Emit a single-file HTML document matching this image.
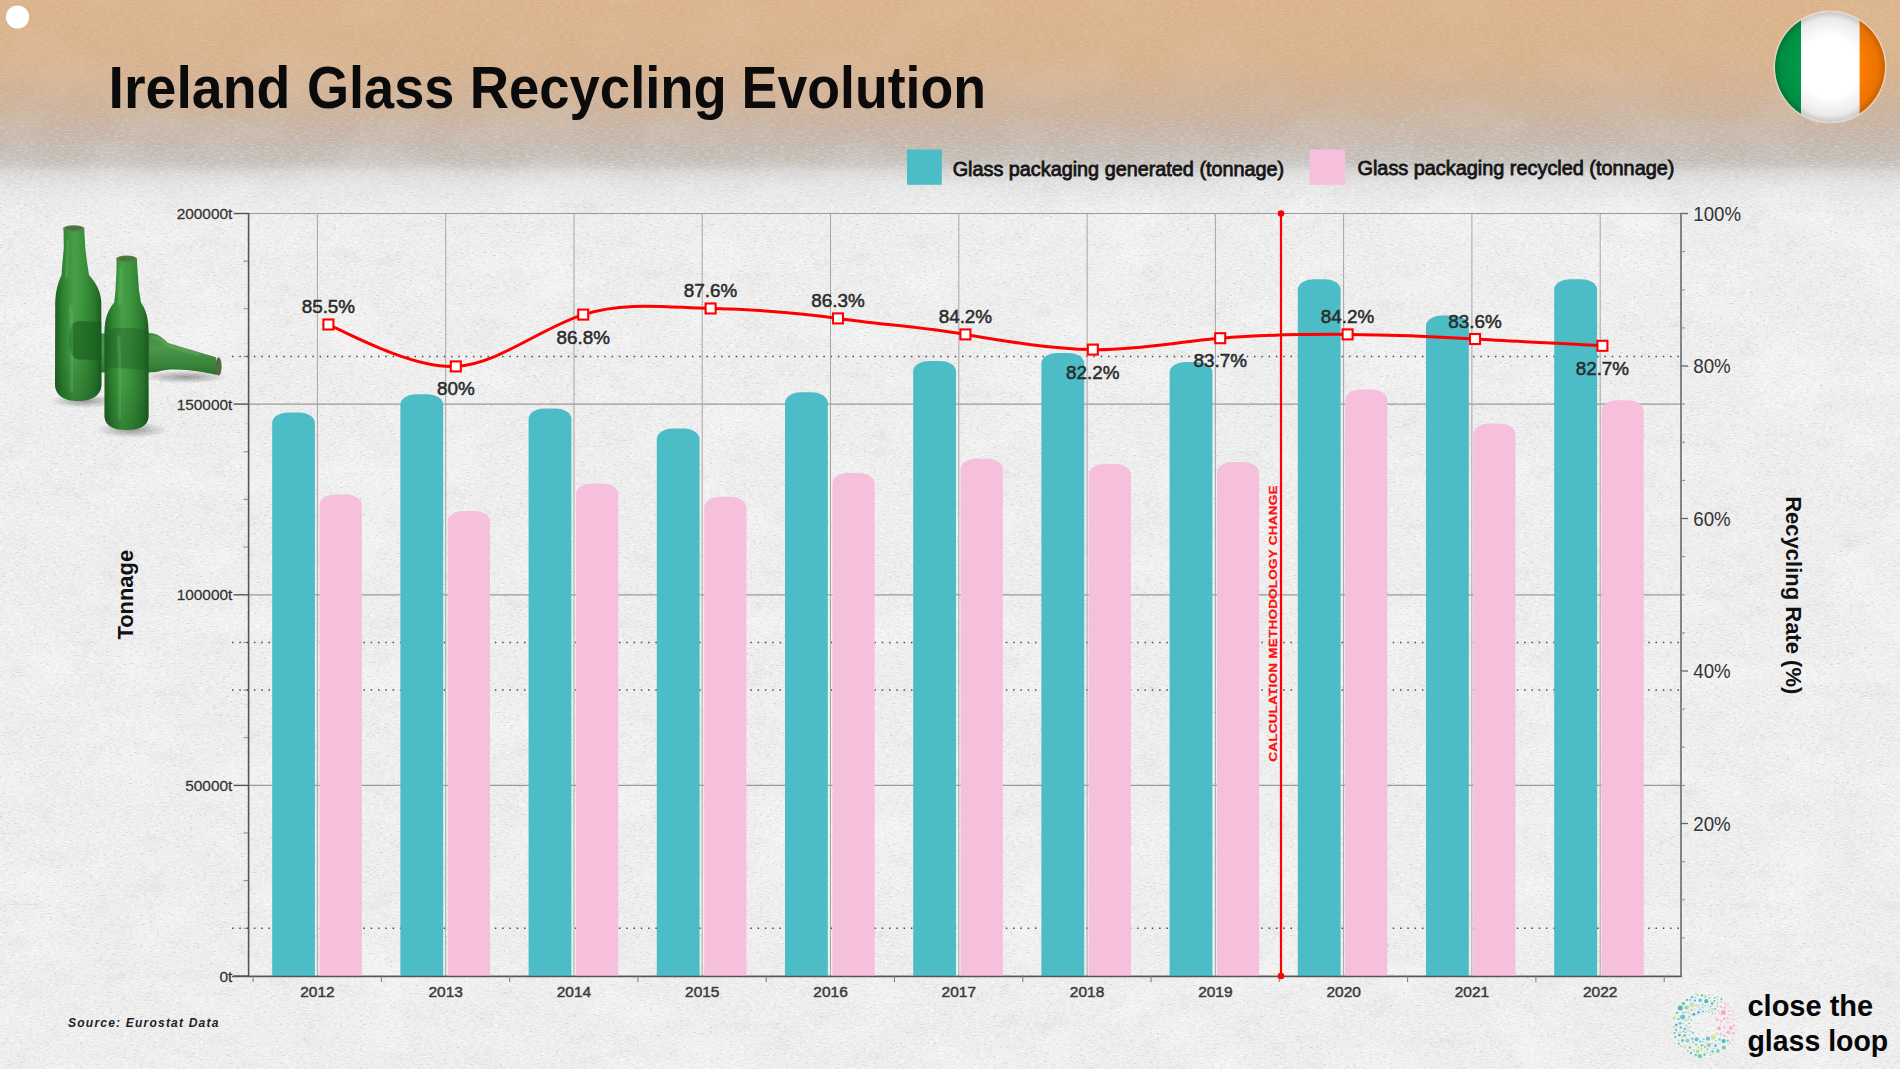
<!DOCTYPE html>
<html><head><meta charset="utf-8"><title>Ireland Glass Recycling Evolution</title>
<style>
html,body{margin:0;padding:0;}
body{width:1900px;height:1069px;overflow:hidden;position:relative;background:#eeeeee;font-family:"Liberation Sans",Arial,sans-serif;}
svg{position:absolute;left:0;top:0;}
</style></head>
<body>
<svg width="1900" height="1069" viewBox="0 0 1900 1069">
<defs>
<linearGradient id="peach" x1="0" y1="0" x2="0" y2="260" gradientUnits="userSpaceOnUse">
<stop offset="0.0000" stop-color="#dbb38a"/>
<stop offset="0.2308" stop-color="#d8b28c"/>
<stop offset="0.3154" stop-color="#d4b192"/>
<stop offset="0.3846" stop-color="#cfb298"/>
<stop offset="0.4615" stop-color="#c9b3a0"/>
<stop offset="0.5192" stop-color="#c5b5a8"/>
<stop offset="0.5769" stop-color="#c3b9b0"/>
<stop offset="0.6154" stop-color="#c4bdb7"/>
<stop offset="0.6385" stop-color="#c9c5c1"/>
<stop offset="0.6615" stop-color="#d6d5d4"/>
<stop offset="0.7115" stop-color="#e2e2e2"/>
<stop offset="0.7692" stop-color="#e8e8e8"/>
<stop offset="0.8269" stop-color="#ececec"/>
<stop offset="1.0000" stop-color="#ececec"/>
</linearGradient>
<filter id="f1" x="0" y="0" width="100%" height="100%">
<feTurbulence type="fractalNoise" baseFrequency="0.012 0.02" numOctaves="4" seed="3"/>
<feColorMatrix type="matrix" values="0 0 0 0 1  0 0 0 0 1  0 0 0 0 1  3 0 0 0 -1.35"/>
</filter>
<filter id="f2" x="0" y="0" width="100%" height="100%">
<feTurbulence type="fractalNoise" baseFrequency="0.03 0.06" numOctaves="3" seed="8"/>
<feColorMatrix type="matrix" values="0 0 0 0 0.45  0 0 0 0 0.45  0 0 0 0 0.45  -3 0 0 0 1.25"/>
</filter>
<filter id="f3" x="0" y="0" width="100%" height="100%">
<feTurbulence type="fractalNoise" baseFrequency="0.2 0.75" numOctaves="2" seed="5"/>
<feColorMatrix type="matrix" values="0 0 0 0 1  0 0 0 0 1  0 0 0 0 1  2.2 0 0 0 -0.95"/>
</filter>
<filter id="f4" x="0" y="0" width="100%" height="100%">
<feTurbulence type="fractalNoise" baseFrequency="0.3 0.9" numOctaves="2" seed="9"/>
<feColorMatrix type="matrix" values="0 0 0 0 0.35  0 0 0 0 0.35  0 0 0 0 0.35  -2.4 0 0 0 0.95"/>
</filter>
<radialGradient id="flagshade" cx="0.5" cy="0.5" r="0.5">
<stop offset="0.55" stop-color="#000" stop-opacity="0"/>
<stop offset="0.88" stop-color="#000" stop-opacity="0.08"/>
<stop offset="1" stop-color="#000" stop-opacity="0.22"/>
</radialGradient>
<linearGradient id="texgrad" x1="0" y1="0" x2="0" y2="1069" gradientUnits="userSpaceOnUse">
<stop offset="0" stop-color="#fff" stop-opacity="0.22"/>
<stop offset="0.1" stop-color="#fff" stop-opacity="0.25"/>
<stop offset="0.16" stop-color="#fff" stop-opacity="0.55"/>
<stop offset="0.2" stop-color="#fff" stop-opacity="1"/>
<stop offset="1" stop-color="#fff" stop-opacity="1"/>
</linearGradient>
<mask id="texmask" maskUnits="userSpaceOnUse" x="0" y="0" width="1900" height="1069"><rect x="0" y="0" width="1900" height="1069" fill="url(#texgrad)"/></mask>
<clipPath id="flagclip"><circle cx="1830" cy="67" r="55"/></clipPath>
</defs>
<rect x="0" y="0" width="1900" height="1069" fill="#ececec"/>
<rect x="0" y="0" width="1900" height="260" fill="url(#peach)"/>
<g mask="url(#texmask)">
<rect x="0" y="0" width="1900" height="1069" fill="#fff" filter="url(#f1)" opacity="0.28"/>
<rect x="0" y="0" width="1900" height="1069" fill="#fff" filter="url(#f2)" opacity="0.13"/>
<rect x="0" y="0" width="1900" height="1069" fill="#fff" filter="url(#f3)" opacity="0.7"/>
<rect x="0" y="0" width="1900" height="1069" fill="#fff" filter="url(#f4)" opacity="0.55"/>
</g>
<circle cx="17.5" cy="17" r="11.6" fill="#fff"/>
<circle cx="1830" cy="67" r="56.5" fill="#f3e6d8" opacity="0.6"/>
<g clip-path="url(#flagclip)">
<rect x="1770" y="10" width="31" height="115" fill="#009a49"/>
<rect x="1801" y="10" width="58.7" height="115" fill="#ffffff"/>
<rect x="1859.7" y="10" width="30" height="115" fill="#ff7d00"/>
<circle cx="1830" cy="67" r="55" fill="url(#flagshade)"/>
</g>

<defs>
<linearGradient id="bgA" x1="0" y1="0" x2="1" y2="0">
<stop offset="0" stop-color="#1d5f22"/><stop offset="0.18" stop-color="#2f8433"/><stop offset="0.4" stop-color="#46a046"/><stop offset="0.62" stop-color="#3b923c"/><stop offset="0.85" stop-color="#2a7a2e"/><stop offset="1" stop-color="#1a5a1f"/>
</linearGradient>
<linearGradient id="bgN" x1="0" y1="0" x2="1" y2="0">
<stop offset="0" stop-color="#2a7a2e"/><stop offset="0.35" stop-color="#4aa64a"/><stop offset="0.7" stop-color="#3c963d"/><stop offset="1" stop-color="#256f29"/>
</linearGradient>
<linearGradient id="bgL" x1="0" y1="0" x2="0" y2="1">
<stop offset="0" stop-color="#3f8e3f"/><stop offset="0.35" stop-color="#4a964a"/><stop offset="0.75" stop-color="#3a843b"/><stop offset="1" stop-color="#2a6e2d"/>
</linearGradient>
<radialGradient id="shadow" cx="0.5" cy="0.5" r="0.5">
<stop offset="0" stop-color="#444" stop-opacity="0.5"/><stop offset="1" stop-color="#444" stop-opacity="0"/>
</radialGradient>
<filter id="blur2"><feGaussianBlur stdDeviation="1.2"/></filter>
<linearGradient id="bvert" x1="0" y1="0" x2="0" y2="1">
<stop offset="0" stop-color="#0c3a10" stop-opacity="0"/><stop offset="0.55" stop-color="#0c3a10" stop-opacity="0.05"/><stop offset="1" stop-color="#0c3a10" stop-opacity="0.3"/>
</linearGradient>
</defs>
<ellipse cx="84" cy="401" rx="34" ry="7" fill="url(#shadow)"/>
<ellipse cx="132" cy="430" rx="36" ry="8" fill="url(#shadow)"/>
<ellipse cx="186" cy="377" rx="42" ry="6.5" fill="url(#shadow)"/>
<path d="M60,334 L149,333 C157,333 162,337 168,343 L216,357.3 L217.5,375 L205,372.5 C190,370 176,369 166,370 C160,371 155,372.5 149,372.5 L60,372.5 Z" fill="url(#bgL)"/>
<path d="M152,337 C158,337 162,340 167,345 L200,355" stroke="#8cc888" stroke-width="3" fill="none" opacity="0.3" filter="url(#blur2)"/>
<ellipse cx="218.6" cy="366.4" rx="3" ry="9.2" fill="#5d6448"/>
<ellipse cx="219.2" cy="366.4" rx="1.6" ry="7.2" fill="#3d7a39"/>
<path d="M63.5,228 L63.8,248 L62.5,262 L61.5,275 C58,283 55.5,291 55.2,303 L55,385 C56,397 66,401 78,401 C90,401 100.5,397 101.5,385 L101.3,303 C101,291 96,283 89,275 L87,262 L85.3,248 L84.2,228 Z" fill="url(#bgA)"/>
<path d="M80,321 L101.3,322 L101.3,360 L80,359.5 C72,359.5 69.5,352 69.5,340 C69.5,328 72,321 80,321 Z" fill="#175c1a" opacity="0.6"/>
<path d="M55.1,300 L101.4,300 L101.5,385 C100.5,397 90,401 78,401 C66,401 56,397 55,385 Z" fill="url(#bvert)"/>
<ellipse cx="73.7" cy="228.5" rx="10.6" ry="3.2" fill="#667652"/>
<ellipse cx="73.7" cy="228.2" rx="8" ry="1.9" fill="#3b7c36"/>
<path d="M116.5,258.5 L116.5,270 L115.5,290 L114.2,302.5 C108,310 104.5,318 104.5,333 L104.5,417 C105.5,427 115,430 126.5,430 C138,430 147.6,427 148.6,417 L148.6,333 C148.6,318 146,310 141,302.5 L139,290 L137.5,270 L136.8,258.5 Z" fill="url(#bgA)"/>
<path d="M104.5,330 C118,327 136,327 148.6,331 L148.6,370 C135,369 120,368 104.5,367 Z" fill="#1f5a22" opacity="0.4"/>
<path d="M104.5,330 L148.6,330 L148.6,417 C147.6,427 138,430 126.5,430 C115,430 105.5,427 104.5,417 Z" fill="url(#bvert)"/>
<ellipse cx="126.6" cy="258.8" rx="10.3" ry="3.3" fill="#667652"/>
<ellipse cx="126.6" cy="258.5" rx="7.8" ry="2" fill="#3b7c36"/>
<path d="M70,305 C73,330 73,360 72,392" stroke="#8fd48a" stroke-width="3.5" fill="none" opacity="0.25" filter="url(#blur2)"/>
<path d="M118,336 C121,360 121,392 120,420" stroke="#8fd48a" stroke-width="3.5" fill="none" opacity="0.25" filter="url(#blur2)"/>
<path d="M68,240 C68,255 67,268 66,278" stroke="#8fd48a" stroke-width="2.5" fill="none" opacity="0.3" filter="url(#blur2)"/>
<path d="M121,268 C121,283 120,295 119,305" stroke="#8fd48a" stroke-width="2.5" fill="none" opacity="0.3" filter="url(#blur2)"/>

<g><text transform="translate(108.60,108.00) scale(0.9243,1)" text-anchor="start" font-family="'Liberation Sans', Arial, sans-serif" font-weight="700" font-size="60" fill="#0b0b0b">Ireland</text><text transform="translate(306.89,108.00) scale(0.9025,1)" text-anchor="start" font-family="'Liberation Sans', Arial, sans-serif" font-weight="700" font-size="60" fill="#0b0b0b">Glass</text><text transform="translate(469.77,108.00) scale(0.9073,1)" text-anchor="start" font-family="'Liberation Sans', Arial, sans-serif" font-weight="700" font-size="60" fill="#0b0b0b">Recycling</text><text transform="translate(741.62,108.00) scale(0.8947,1)" text-anchor="start" font-family="'Liberation Sans', Arial, sans-serif" font-weight="700" font-size="60" fill="#0b0b0b">Evolution</text></g>
<rect x="907" y="149.5" width="34.8" height="35.3" fill="#4cbcc6"/>
<text transform="translate(952.67,175.60) scale(1.0277,1)" text-anchor="start" font-family="'Liberation Sans', Arial, sans-serif" font-weight="400" font-size="19.3" fill="#161616" stroke="#161616" stroke-width="0.8" paint-order="stroke">Glass packaging generated (tonnage)</text>
<rect x="1309.5" y="149.5" width="35.8" height="35.3" fill="#f6bfdb"/>
<text transform="translate(1357.47,175.40) scale(1.0301,1)" text-anchor="start" font-family="'Liberation Sans', Arial, sans-serif" font-weight="400" font-size="19.3" fill="#161616" stroke="#161616" stroke-width="0.8" paint-order="stroke">Glass packaging recycled (tonnage)</text>
<line x1="248.6" y1="976.0" x2="1681.0" y2="976.0" stroke="#9a9a9a" stroke-width="1.2"/>
<line x1="233.5" y1="976.0" x2="248.6" y2="976.0" stroke="#555" stroke-width="1.4"/>
<line x1="248.6" y1="785.4" x2="1681.0" y2="785.4" stroke="#9a9a9a" stroke-width="1.2"/>
<line x1="233.5" y1="785.4" x2="248.6" y2="785.4" stroke="#555" stroke-width="1.4"/>
<line x1="248.6" y1="594.8" x2="1681.0" y2="594.8" stroke="#9a9a9a" stroke-width="1.2"/>
<line x1="233.5" y1="594.8" x2="248.6" y2="594.8" stroke="#555" stroke-width="1.4"/>
<line x1="248.6" y1="404.1" x2="1681.0" y2="404.1" stroke="#9a9a9a" stroke-width="1.2"/>
<line x1="233.5" y1="404.1" x2="248.6" y2="404.1" stroke="#555" stroke-width="1.4"/>
<line x1="248.6" y1="213.5" x2="1681.0" y2="213.5" stroke="#9a9a9a" stroke-width="1.2"/>
<line x1="233.5" y1="213.5" x2="248.6" y2="213.5" stroke="#555" stroke-width="1.4"/>
<line x1="243.5" y1="928.3" x2="248.6" y2="928.3" stroke="#888" stroke-width="1"/>
<line x1="243.5" y1="880.7" x2="248.6" y2="880.7" stroke="#888" stroke-width="1"/>
<line x1="243.5" y1="833.0" x2="248.6" y2="833.0" stroke="#888" stroke-width="1"/>
<line x1="243.5" y1="737.7" x2="248.6" y2="737.7" stroke="#888" stroke-width="1"/>
<line x1="243.5" y1="690.1" x2="248.6" y2="690.1" stroke="#888" stroke-width="1"/>
<line x1="243.5" y1="642.4" x2="248.6" y2="642.4" stroke="#888" stroke-width="1"/>
<line x1="243.5" y1="547.1" x2="248.6" y2="547.1" stroke="#888" stroke-width="1"/>
<line x1="243.5" y1="499.4" x2="248.6" y2="499.4" stroke="#888" stroke-width="1"/>
<line x1="243.5" y1="451.8" x2="248.6" y2="451.8" stroke="#888" stroke-width="1"/>
<line x1="243.5" y1="356.5" x2="248.6" y2="356.5" stroke="#888" stroke-width="1"/>
<line x1="243.5" y1="308.8" x2="248.6" y2="308.8" stroke="#888" stroke-width="1"/>
<line x1="243.5" y1="261.2" x2="248.6" y2="261.2" stroke="#888" stroke-width="1"/>
<line x1="232" y1="356.5" x2="1681.0" y2="356.5" stroke="#4a4a4a" stroke-width="1.5" stroke-dasharray="1.5 5.8"/>
<line x1="232" y1="642.4" x2="1681.0" y2="642.4" stroke="#4a4a4a" stroke-width="1.5" stroke-dasharray="1.5 5.8"/>
<line x1="232" y1="690.1" x2="1681.0" y2="690.1" stroke="#4a4a4a" stroke-width="1.5" stroke-dasharray="1.5 5.8"/>
<line x1="232" y1="928.3" x2="1681.0" y2="928.3" stroke="#4a4a4a" stroke-width="1.5" stroke-dasharray="1.5 5.8"/>
<line x1="317.4" y1="213.5" x2="317.4" y2="976.0" stroke="#a5a5a5" stroke-width="1"/>
<line x1="445.7" y1="213.5" x2="445.7" y2="976.0" stroke="#a5a5a5" stroke-width="1"/>
<line x1="574.0" y1="213.5" x2="574.0" y2="976.0" stroke="#a5a5a5" stroke-width="1"/>
<line x1="702.2" y1="213.5" x2="702.2" y2="976.0" stroke="#a5a5a5" stroke-width="1"/>
<line x1="830.5" y1="213.5" x2="830.5" y2="976.0" stroke="#a5a5a5" stroke-width="1"/>
<line x1="958.8" y1="213.5" x2="958.8" y2="976.0" stroke="#a5a5a5" stroke-width="1"/>
<line x1="1087.1" y1="213.5" x2="1087.1" y2="976.0" stroke="#a5a5a5" stroke-width="1"/>
<line x1="1215.4" y1="213.5" x2="1215.4" y2="976.0" stroke="#a5a5a5" stroke-width="1"/>
<line x1="1343.6" y1="213.5" x2="1343.6" y2="976.0" stroke="#a5a5a5" stroke-width="1"/>
<line x1="1471.9" y1="213.5" x2="1471.9" y2="976.0" stroke="#a5a5a5" stroke-width="1"/>
<line x1="1600.2" y1="213.5" x2="1600.2" y2="976.0" stroke="#a5a5a5" stroke-width="1"/>
<path d="M272.2,976.0 L272.2,423.0 A16.0,10.5 0 0 1 288.2,412.5 L298.9,412.5 A16.0,10.5 0 0 1 314.9,423.0 L314.9,976.0 Z" fill="#4cbcc6"/>
<path d="M319.6,976.0 L319.6,504.9 A16.0,10.5 0 0 1 335.6,494.4 L345.9,494.4 A16.0,10.5 0 0 1 361.9,504.9 L361.9,976.0 Z" fill="#f6bfdb"/>
<path d="M400.4,976.0 L400.4,404.7 A16.0,10.5 0 0 1 416.4,394.2 L427.2,394.2 A16.0,10.5 0 0 1 443.2,404.7 L443.2,976.0 Z" fill="#4cbcc6"/>
<path d="M447.8,976.0 L447.8,521.5 A16.0,10.5 0 0 1 463.8,511.0 L474.0,511.0 A16.0,10.5 0 0 1 490.0,521.5 L490.0,976.0 Z" fill="#f6bfdb"/>
<path d="M528.6,976.0 L528.6,419.0 A16.0,10.5 0 0 1 544.6,408.5 L555.4,408.5 A16.0,10.5 0 0 1 571.4,419.0 L571.4,976.0 Z" fill="#4cbcc6"/>
<path d="M576.0,976.0 L576.0,493.9 A16.0,10.5 0 0 1 592.0,483.4 L602.2,483.4 A16.0,10.5 0 0 1 618.2,493.9 L618.2,976.0 Z" fill="#f6bfdb"/>
<path d="M656.8,976.0 L656.8,439.1 A16.0,10.5 0 0 1 672.8,428.6 L683.6,428.6 A16.0,10.5 0 0 1 699.6,439.1 L699.6,976.0 Z" fill="#4cbcc6"/>
<path d="M704.2,976.0 L704.2,507.3 A16.0,10.5 0 0 1 720.2,496.8 L730.4,496.8 A16.0,10.5 0 0 1 746.4,507.3 L746.4,976.0 Z" fill="#f6bfdb"/>
<path d="M785.0,976.0 L785.0,402.8 A16.0,10.5 0 0 1 801.0,392.3 L811.8,392.3 A16.0,10.5 0 0 1 827.8,402.8 L827.8,976.0 Z" fill="#4cbcc6"/>
<path d="M832.4,976.0 L832.4,483.4 A16.0,10.5 0 0 1 848.4,472.9 L858.6,472.9 A16.0,10.5 0 0 1 874.6,483.4 L874.6,976.0 Z" fill="#f6bfdb"/>
<path d="M913.2,976.0 L913.2,371.5 A16.0,10.5 0 0 1 929.2,361.0 L940.0,361.0 A16.0,10.5 0 0 1 956.0,371.5 L956.0,976.0 Z" fill="#4cbcc6"/>
<path d="M960.6,976.0 L960.6,469.2 A16.0,10.5 0 0 1 976.6,458.7 L986.8,458.7 A16.0,10.5 0 0 1 1002.8,469.2 L1002.8,976.0 Z" fill="#f6bfdb"/>
<path d="M1041.4,976.0 L1041.4,363.4 A16.0,10.5 0 0 1 1057.4,352.9 L1068.2,352.9 A16.0,10.5 0 0 1 1084.2,363.4 L1084.2,976.0 Z" fill="#4cbcc6"/>
<path d="M1088.7,976.0 L1088.7,474.5 A16.0,10.5 0 0 1 1104.7,464.0 L1114.9,464.0 A16.0,10.5 0 0 1 1130.9,474.5 L1130.9,976.0 Z" fill="#f6bfdb"/>
<path d="M1169.6,976.0 L1169.6,372.5 A16.0,10.5 0 0 1 1185.6,362.0 L1196.4,362.0 A16.0,10.5 0 0 1 1212.4,372.5 L1212.4,976.0 Z" fill="#4cbcc6"/>
<path d="M1216.9,976.0 L1216.9,472.4 A16.0,10.5 0 0 1 1232.9,461.9 L1243.1,461.9 A16.0,10.5 0 0 1 1259.1,472.4 L1259.1,976.0 Z" fill="#f6bfdb"/>
<path d="M1297.8,976.0 L1297.8,289.7 A16.0,10.5 0 0 1 1313.8,279.2 L1324.6,279.2 A16.0,10.5 0 0 1 1340.6,289.7 L1340.6,976.0 Z" fill="#4cbcc6"/>
<path d="M1345.1,976.0 L1345.1,400.0 A16.0,10.5 0 0 1 1361.1,389.5 L1371.3,389.5 A16.0,10.5 0 0 1 1387.3,400.0 L1387.3,976.0 Z" fill="#f6bfdb"/>
<path d="M1426.0,976.0 L1426.0,325.9 A16.0,10.5 0 0 1 1442.0,315.4 L1452.8,315.4 A16.0,10.5 0 0 1 1468.8,325.9 L1468.8,976.0 Z" fill="#4cbcc6"/>
<path d="M1473.3,976.0 L1473.3,434.1 A16.0,10.5 0 0 1 1489.3,423.6 L1499.5,423.6 A16.0,10.5 0 0 1 1515.5,434.1 L1515.5,976.0 Z" fill="#f6bfdb"/>
<path d="M1554.2,976.0 L1554.2,289.7 A16.0,10.5 0 0 1 1570.2,279.2 L1581.1,279.2 A16.0,10.5 0 0 1 1597.1,289.7 L1597.1,976.0 Z" fill="#4cbcc6"/>
<path d="M1601.5,976.0 L1601.5,410.8 A16.0,10.5 0 0 1 1617.5,400.3 L1627.7,400.3 A16.0,10.5 0 0 1 1643.7,410.8 L1643.7,976.0 Z" fill="#f6bfdb"/>
<line x1="248.6" y1="213.0" x2="248.6" y2="976.0" stroke="#555" stroke-width="1.6"/>
<line x1="1681.0" y1="213.0" x2="1681.0" y2="976.0" stroke="#6a6a6a" stroke-width="1.6"/>
<line x1="232" y1="976.4" x2="1681.8" y2="976.4" stroke="#555" stroke-width="1.5"/>
<line x1="253.1" y1="976.0" x2="253.1" y2="982.0" stroke="#777" stroke-width="1"/>
<line x1="381.4" y1="976.0" x2="381.4" y2="982.0" stroke="#777" stroke-width="1"/>
<line x1="509.7" y1="976.0" x2="509.7" y2="982.0" stroke="#777" stroke-width="1"/>
<line x1="637.9" y1="976.0" x2="637.9" y2="982.0" stroke="#777" stroke-width="1"/>
<line x1="766.2" y1="976.0" x2="766.2" y2="982.0" stroke="#777" stroke-width="1"/>
<line x1="894.5" y1="976.0" x2="894.5" y2="982.0" stroke="#777" stroke-width="1"/>
<line x1="1022.8" y1="976.0" x2="1022.8" y2="982.0" stroke="#777" stroke-width="1"/>
<line x1="1151.1" y1="976.0" x2="1151.1" y2="982.0" stroke="#777" stroke-width="1"/>
<line x1="1279.3" y1="976.0" x2="1279.3" y2="982.0" stroke="#777" stroke-width="1"/>
<line x1="1407.6" y1="976.0" x2="1407.6" y2="982.0" stroke="#777" stroke-width="1"/>
<line x1="1535.9" y1="976.0" x2="1535.9" y2="982.0" stroke="#777" stroke-width="1"/>
<line x1="1664.2" y1="976.0" x2="1664.2" y2="982.0" stroke="#777" stroke-width="1"/>
<line x1="1681.0" y1="823.5" x2="1688.0" y2="823.5" stroke="#666" stroke-width="1.3"/>
<line x1="1681.0" y1="671.0" x2="1688.0" y2="671.0" stroke="#666" stroke-width="1.3"/>
<line x1="1681.0" y1="518.5" x2="1688.0" y2="518.5" stroke="#666" stroke-width="1.3"/>
<line x1="1681.0" y1="366.0" x2="1688.0" y2="366.0" stroke="#666" stroke-width="1.3"/>
<line x1="1681.0" y1="213.5" x2="1688.0" y2="213.5" stroke="#666" stroke-width="1.3"/>
<line x1="1681.0" y1="937.9" x2="1685.0" y2="937.9" stroke="#8a8a8a" stroke-width="1"/>
<line x1="1681.0" y1="899.8" x2="1685.0" y2="899.8" stroke="#8a8a8a" stroke-width="1"/>
<line x1="1681.0" y1="861.6" x2="1685.0" y2="861.6" stroke="#8a8a8a" stroke-width="1"/>
<line x1="1681.0" y1="785.4" x2="1685.0" y2="785.4" stroke="#8a8a8a" stroke-width="1"/>
<line x1="1681.0" y1="747.2" x2="1685.0" y2="747.2" stroke="#8a8a8a" stroke-width="1"/>
<line x1="1681.0" y1="709.1" x2="1685.0" y2="709.1" stroke="#8a8a8a" stroke-width="1"/>
<line x1="1681.0" y1="632.9" x2="1685.0" y2="632.9" stroke="#8a8a8a" stroke-width="1"/>
<line x1="1681.0" y1="594.8" x2="1685.0" y2="594.8" stroke="#8a8a8a" stroke-width="1"/>
<line x1="1681.0" y1="556.6" x2="1685.0" y2="556.6" stroke="#8a8a8a" stroke-width="1"/>
<line x1="1681.0" y1="480.4" x2="1685.0" y2="480.4" stroke="#8a8a8a" stroke-width="1"/>
<line x1="1681.0" y1="442.2" x2="1685.0" y2="442.2" stroke="#8a8a8a" stroke-width="1"/>
<line x1="1681.0" y1="404.1" x2="1685.0" y2="404.1" stroke="#8a8a8a" stroke-width="1"/>
<line x1="1681.0" y1="327.9" x2="1685.0" y2="327.9" stroke="#8a8a8a" stroke-width="1"/>
<line x1="1681.0" y1="289.8" x2="1685.0" y2="289.8" stroke="#8a8a8a" stroke-width="1"/>
<line x1="1681.0" y1="251.6" x2="1685.0" y2="251.6" stroke="#8a8a8a" stroke-width="1"/>
<line x1="1281.0" y1="213.5" x2="1281.0" y2="976.0" stroke="#ff0000" stroke-width="2.2"/>
<circle cx="1281.0" cy="213.5" r="3.3" fill="#ff0000"/>
<circle cx="1281.0" cy="976.0" r="3.3" fill="#ff0000"/>
<text transform="translate(1277.40,761.80) rotate(-90) scale(1.1952,1)" text-anchor="start" font-family="'Liberation Sans', Arial, sans-serif" font-weight="700" letter-spacing="0.2" font-size="11.3" fill="#ff1010" stroke="#ff1010" stroke-width="0.25" paint-order="stroke">CALCULATION METHODOLOGY CHANGE</text>
<path d="M328.4,324.5 C349.6,334.3 413.3,368.7 455.8,366.4 C498.3,364.1 540.7,328.1 583.2,314.6 C625.7,301.1 668.1,307.6 710.6,308.5 C753.1,309.4 795.5,312.3 838.0,318.4 C880.5,324.4 922.9,327.1 965.4,334.4 C1007.9,341.7 1050.3,348.7 1092.8,349.6 C1135.3,350.5 1177.7,341.8 1220.2,338.2 C1262.7,334.7 1305.1,334.2 1347.6,334.4 C1390.1,334.6 1432.5,336.3 1475.0,339.0 C1517.5,341.6 1581.2,344.2 1602.4,345.8" fill="none" stroke="#ff0000" stroke-width="3"/>
<rect x="323.4" y="319.5" width="10" height="10" fill="#fff" stroke="#ff0000" stroke-width="2.1"/>
<rect x="450.8" y="361.4" width="10" height="10" fill="#fff" stroke="#ff0000" stroke-width="2.1"/>
<rect x="578.2" y="309.6" width="10" height="10" fill="#fff" stroke="#ff0000" stroke-width="2.1"/>
<rect x="705.6" y="303.5" width="10" height="10" fill="#fff" stroke="#ff0000" stroke-width="2.1"/>
<rect x="833.0" y="313.4" width="10" height="10" fill="#fff" stroke="#ff0000" stroke-width="2.1"/>
<rect x="960.4" y="329.4" width="10" height="10" fill="#fff" stroke="#ff0000" stroke-width="2.1"/>
<rect x="1087.8" y="344.6" width="10" height="10" fill="#fff" stroke="#ff0000" stroke-width="2.1"/>
<rect x="1215.2" y="333.2" width="10" height="10" fill="#fff" stroke="#ff0000" stroke-width="2.1"/>
<rect x="1342.6" y="329.4" width="10" height="10" fill="#fff" stroke="#ff0000" stroke-width="2.1"/>
<rect x="1470.0" y="334.0" width="10" height="10" fill="#fff" stroke="#ff0000" stroke-width="2.1"/>
<rect x="1597.4" y="340.8" width="10" height="10" fill="#fff" stroke="#ff0000" stroke-width="2.1"/>
<text transform="translate(328.40,313.49) scale(0.9981,1)" text-anchor="middle" font-family="'Liberation Sans', Arial, sans-serif" font-weight="400" font-size="18.9" fill="#2b2b2b" stroke="#2b2b2b" stroke-width="0.5" paint-order="stroke">85.5%</text>
<text transform="translate(455.80,395.40) scale(0.9981,1)" text-anchor="middle" font-family="'Liberation Sans', Arial, sans-serif" font-weight="400" font-size="18.9" fill="#2b2b2b" stroke="#2b2b2b" stroke-width="0.5" paint-order="stroke">80%</text>
<text transform="translate(583.20,343.58) scale(0.9981,1)" text-anchor="middle" font-family="'Liberation Sans', Arial, sans-serif" font-weight="400" font-size="18.9" fill="#2b2b2b" stroke="#2b2b2b" stroke-width="0.5" paint-order="stroke">86.8%</text>
<text transform="translate(710.60,297.49) scale(0.9981,1)" text-anchor="middle" font-family="'Liberation Sans', Arial, sans-serif" font-weight="400" font-size="18.9" fill="#2b2b2b" stroke="#2b2b2b" stroke-width="0.5" paint-order="stroke">87.6%</text>
<text transform="translate(838.00,307.39) scale(0.9981,1)" text-anchor="middle" font-family="'Liberation Sans', Arial, sans-serif" font-weight="400" font-size="18.9" fill="#2b2b2b" stroke="#2b2b2b" stroke-width="0.5" paint-order="stroke">86.3%</text>
<text transform="translate(965.40,323.40) scale(0.9981,1)" text-anchor="middle" font-family="'Liberation Sans', Arial, sans-serif" font-weight="400" font-size="18.9" fill="#2b2b2b" stroke="#2b2b2b" stroke-width="0.5" paint-order="stroke">84.2%</text>
<text transform="translate(1092.80,378.64) scale(0.9981,1)" text-anchor="middle" font-family="'Liberation Sans', Arial, sans-serif" font-weight="400" font-size="18.9" fill="#2b2b2b" stroke="#2b2b2b" stroke-width="0.5" paint-order="stroke">82.2%</text>
<text transform="translate(1220.20,367.21) scale(0.9981,1)" text-anchor="middle" font-family="'Liberation Sans', Arial, sans-serif" font-weight="400" font-size="18.9" fill="#2b2b2b" stroke="#2b2b2b" stroke-width="0.5" paint-order="stroke">83.7%</text>
<text transform="translate(1347.60,323.40) scale(0.9981,1)" text-anchor="middle" font-family="'Liberation Sans', Arial, sans-serif" font-weight="400" font-size="18.9" fill="#2b2b2b" stroke="#2b2b2b" stroke-width="0.5" paint-order="stroke">84.2%</text>
<text transform="translate(1475.00,327.97) scale(0.9981,1)" text-anchor="middle" font-family="'Liberation Sans', Arial, sans-serif" font-weight="400" font-size="18.9" fill="#2b2b2b" stroke="#2b2b2b" stroke-width="0.5" paint-order="stroke">83.6%</text>
<text transform="translate(1602.40,374.83) scale(0.9981,1)" text-anchor="middle" font-family="'Liberation Sans', Arial, sans-serif" font-weight="400" font-size="18.9" fill="#2b2b2b" stroke="#2b2b2b" stroke-width="0.5" paint-order="stroke">82.7%</text>
<text transform="translate(232.30,981.50) scale(0.9945,1)" text-anchor="end" font-family="'Liberation Sans', Arial, sans-serif" font-weight="400" font-size="15.5" fill="#333" stroke="#333" stroke-width="0.25" paint-order="stroke">0t</text>
<text transform="translate(232.30,790.88) scale(0.9945,1)" text-anchor="end" font-family="'Liberation Sans', Arial, sans-serif" font-weight="400" font-size="15.5" fill="#333" stroke="#333" stroke-width="0.25" paint-order="stroke">50000t</text>
<text transform="translate(232.30,600.25) scale(0.9945,1)" text-anchor="end" font-family="'Liberation Sans', Arial, sans-serif" font-weight="400" font-size="15.5" fill="#333" stroke="#333" stroke-width="0.25" paint-order="stroke">100000t</text>
<text transform="translate(232.30,409.62) scale(0.9945,1)" text-anchor="end" font-family="'Liberation Sans', Arial, sans-serif" font-weight="400" font-size="15.5" fill="#333" stroke="#333" stroke-width="0.25" paint-order="stroke">150000t</text>
<text transform="translate(232.30,219.00) scale(0.9945,1)" text-anchor="end" font-family="'Liberation Sans', Arial, sans-serif" font-weight="400" font-size="15.5" fill="#333" stroke="#333" stroke-width="0.25" paint-order="stroke">200000t</text>
<text transform="translate(1693.24,830.70) scale(0.9604,1)" text-anchor="start" font-family="'Liberation Sans', Arial, sans-serif" font-weight="400" font-size="19.5" fill="#333">20%</text>
<text transform="translate(1693.24,678.20) scale(0.9604,1)" text-anchor="start" font-family="'Liberation Sans', Arial, sans-serif" font-weight="400" font-size="19.5" fill="#333">40%</text>
<text transform="translate(1693.24,525.70) scale(0.9604,1)" text-anchor="start" font-family="'Liberation Sans', Arial, sans-serif" font-weight="400" font-size="19.5" fill="#333">60%</text>
<text transform="translate(1693.24,373.20) scale(0.9604,1)" text-anchor="start" font-family="'Liberation Sans', Arial, sans-serif" font-weight="400" font-size="19.5" fill="#333">80%</text>
<text transform="translate(1693.24,220.70) scale(0.9604,1)" text-anchor="start" font-family="'Liberation Sans', Arial, sans-serif" font-weight="400" font-size="19.5" fill="#333">100%</text>
<text transform="translate(317.40,997.40) scale(1.0613,1)" text-anchor="middle" font-family="'Liberation Sans', Arial, sans-serif" font-weight="400" font-size="14.6" fill="#3a3a3a" stroke="#3a3a3a" stroke-width="0.45" paint-order="stroke">2012</text>
<text transform="translate(445.68,997.40) scale(1.0613,1)" text-anchor="middle" font-family="'Liberation Sans', Arial, sans-serif" font-weight="400" font-size="14.6" fill="#3a3a3a" stroke="#3a3a3a" stroke-width="0.45" paint-order="stroke">2013</text>
<text transform="translate(573.96,997.40) scale(1.0613,1)" text-anchor="middle" font-family="'Liberation Sans', Arial, sans-serif" font-weight="400" font-size="14.6" fill="#3a3a3a" stroke="#3a3a3a" stroke-width="0.45" paint-order="stroke">2014</text>
<text transform="translate(702.24,997.40) scale(1.0613,1)" text-anchor="middle" font-family="'Liberation Sans', Arial, sans-serif" font-weight="400" font-size="14.6" fill="#3a3a3a" stroke="#3a3a3a" stroke-width="0.45" paint-order="stroke">2015</text>
<text transform="translate(830.52,997.40) scale(1.0613,1)" text-anchor="middle" font-family="'Liberation Sans', Arial, sans-serif" font-weight="400" font-size="14.6" fill="#3a3a3a" stroke="#3a3a3a" stroke-width="0.45" paint-order="stroke">2016</text>
<text transform="translate(958.80,997.40) scale(1.0613,1)" text-anchor="middle" font-family="'Liberation Sans', Arial, sans-serif" font-weight="400" font-size="14.6" fill="#3a3a3a" stroke="#3a3a3a" stroke-width="0.45" paint-order="stroke">2017</text>
<text transform="translate(1087.08,997.40) scale(1.0613,1)" text-anchor="middle" font-family="'Liberation Sans', Arial, sans-serif" font-weight="400" font-size="14.6" fill="#3a3a3a" stroke="#3a3a3a" stroke-width="0.45" paint-order="stroke">2018</text>
<text transform="translate(1215.36,997.40) scale(1.0613,1)" text-anchor="middle" font-family="'Liberation Sans', Arial, sans-serif" font-weight="400" font-size="14.6" fill="#3a3a3a" stroke="#3a3a3a" stroke-width="0.45" paint-order="stroke">2019</text>
<text transform="translate(1343.64,997.40) scale(1.0613,1)" text-anchor="middle" font-family="'Liberation Sans', Arial, sans-serif" font-weight="400" font-size="14.6" fill="#3a3a3a" stroke="#3a3a3a" stroke-width="0.45" paint-order="stroke">2020</text>
<text transform="translate(1471.92,997.40) scale(1.0613,1)" text-anchor="middle" font-family="'Liberation Sans', Arial, sans-serif" font-weight="400" font-size="14.6" fill="#3a3a3a" stroke="#3a3a3a" stroke-width="0.45" paint-order="stroke">2021</text>
<text transform="translate(1600.20,997.40) scale(1.0613,1)" text-anchor="middle" font-family="'Liberation Sans', Arial, sans-serif" font-weight="400" font-size="14.6" fill="#3a3a3a" stroke="#3a3a3a" stroke-width="0.45" paint-order="stroke">2022</text>
<text transform="translate(132.90,639.60) rotate(-90) scale(0.9707,1)" text-anchor="start" font-family="'Liberation Sans', Arial, sans-serif" font-weight="700" font-size="22.6" fill="#111">Tonnage</text>
<text transform="translate(1785.80,496.18) rotate(90) scale(1.0193,1)" text-anchor="start" font-family="'Liberation Sans', Arial, sans-serif" font-weight="700" font-size="21.6" fill="#111">Recycling Rate (%)</text>
<text transform="translate(68.05,1026.50) scale(0.9027,1)" text-anchor="start" font-family="'Liberation Sans', Arial, sans-serif" font-weight="700" font-style="italic" letter-spacing="1.3" font-size="13.4" fill="#1e1e1e">Source: Eurostat Data</text>
<circle cx="1682.7" cy="1016.9" r="2.5" fill="#6ac4d8"/><circle cx="1676.0" cy="1029.9" r="1.1" fill="#5cc5ea"/><circle cx="1719.2" cy="1043.6" r="0.7" fill="#8ed3c2"/><circle cx="1686.9" cy="999.9" r="1.1" fill="#3dbfc8"/><circle cx="1731.5" cy="1036.8" r="0.7" fill="#f9c3d9"/><circle cx="1680.3" cy="1008.0" r="2.5" fill="#4bb9a5"/><circle cx="1717.2" cy="1006.1" r="1.3" fill="#cde79e"/><circle cx="1691.8" cy="1004.8" r="2.5" fill="#cde79e"/><circle cx="1693.5" cy="1050.7" r="1.3" fill="#cde79e"/><circle cx="1691.3" cy="1019.9" r="0.9" fill="#8ed3c2"/><circle cx="1700.3" cy="1041.4" r="0.9" fill="#3dbfc8"/><circle cx="1734.0" cy="1025.6" r="1.3" fill="#f6b3cf"/><circle cx="1728.0" cy="1022.6" r="2.1" fill="#fbd3e3"/><circle cx="1693.8" cy="1014.2" r="1.5" fill="#4bb9a5"/><circle cx="1696.6" cy="1039.3" r="2.1" fill="#5cc5ea"/><circle cx="1699.9" cy="1009.1" r="0.7" fill="#3dbfc8"/><circle cx="1680.9" cy="1027.5" r="1.3" fill="#6ac4d8"/><circle cx="1687.5" cy="1040.7" r="2.1" fill="#8ed3c2"/><circle cx="1735.7" cy="1029.4" r="1.1" fill="#fbd3e3"/><circle cx="1713.4" cy="1037.2" r="2.5" fill="#cde79e"/><circle cx="1724.4" cy="1035.5" r="1.3" fill="#f7bcd5"/><circle cx="1730.8" cy="1028.1" r="1.8" fill="#f4a6c6"/><circle cx="1723.8" cy="1047.5" r="2.1" fill="#72cf9e"/><circle cx="1704.6" cy="1054.6" r="1.3" fill="#72cf9e"/><circle cx="1730.5" cy="1015.3" r="1.3" fill="#fbd3e3"/><circle cx="1723.4" cy="1012.6" r="2.5" fill="#f4a6c6"/><circle cx="1687.8" cy="1027.7" r="0.9" fill="#cde79e"/><circle cx="1720.7" cy="1015.9" r="0.7" fill="#f6b3cf"/><circle cx="1685.6" cy="1032.2" r="0.7" fill="#3dbfc8"/><circle cx="1692.3" cy="1038.7" r="1.1" fill="#5cc5ea"/><circle cx="1694.9" cy="1000.6" r="1.1" fill="#3dbfc8"/><circle cx="1731.1" cy="1019.2" r="0.7" fill="#f7bcd5"/><circle cx="1702.1" cy="995.4" r="1.1" fill="#4bb9a5"/><circle cx="1678.6" cy="1040.3" r="0.7" fill="#6ac4d8"/><circle cx="1686.5" cy="1007.5" r="2.1" fill="#8ed3c2"/><circle cx="1680.1" cy="1023.3" r="1.5" fill="#5cc5ea"/><circle cx="1707.5" cy="1049.2" r="0.9" fill="#6ac4d8"/><circle cx="1724.2" cy="1026.9" r="1.5" fill="#f9c3d9"/><circle cx="1712.4" cy="1051.4" r="1.1" fill="#4bb9a5"/><circle cx="1679.5" cy="1035.1" r="1.3" fill="#4bb9a5"/><circle cx="1705.3" cy="996.6" r="1.3" fill="#a9dc8e"/><circle cx="1721.5" cy="1001.6" r="0.9" fill="#f4a6c6"/><circle cx="1709.0" cy="1045.1" r="2.1" fill="#8ed3c2"/><circle cx="1733.3" cy="1033.2" r="1.5" fill="#f7bcd5"/><circle cx="1682.6" cy="1040.4" r="1.3" fill="#3dbfc8"/><circle cx="1733.1" cy="1022.6" r="0.9" fill="#fbd3e3"/><circle cx="1692.1" cy="997.1" r="1.3" fill="#6ac4d8"/><circle cx="1693.1" cy="1042.0" r="1.1" fill="#8ed3c2"/><circle cx="1688.3" cy="1030.4" r="0.7" fill="#8ed3c2"/><circle cx="1715.3" cy="1013.4" r="0.9" fill="#f9c3d9"/><circle cx="1674.1" cy="1018.3" r="1.8" fill="#cde79e"/><circle cx="1710.5" cy="1055.3" r="0.9" fill="#8ed3c2"/><circle cx="1717.9" cy="1051.0" r="1.8" fill="#72cf9e"/><circle cx="1673.7" cy="1026.9" r="0.9" fill="#a9dc8e"/><circle cx="1728.4" cy="1032.3" r="2.1" fill="#f7bcd5"/><circle cx="1684.8" cy="1028.9" r="1.1" fill="#4bb9a5"/><circle cx="1723.6" cy="1041.0" r="2.1" fill="#3dbfc8"/><circle cx="1720.8" cy="1006.7" r="1.3" fill="#f7bcd5"/><circle cx="1686.3" cy="1020.5" r="1.1" fill="#a9dc8e"/><circle cx="1683.4" cy="1003.6" r="1.8" fill="#72cf9e"/><circle cx="1696.2" cy="1044.7" r="1.3" fill="#a9dc8e"/><circle cx="1705.6" cy="1042.5" r="0.9" fill="#cde79e"/><circle cx="1734.2" cy="1019.5" r="0.9" fill="#f7bcd5"/><circle cx="1689.9" cy="1047.5" r="1.3" fill="#5cc5ea"/><circle cx="1729.7" cy="1042.7" r="0.7" fill="#72cf9e"/><circle cx="1674.5" cy="1032.8" r="0.9" fill="#4bb9a5"/><circle cx="1684.5" cy="1035.5" r="1.8" fill="#8ed3c2"/><circle cx="1730.2" cy="1007.5" r="0.7" fill="#f9c3d9"/><circle cx="1706.2" cy="1001.2" r="2.1" fill="#3dbfc8"/><circle cx="1714.2" cy="1000.9" r="0.9" fill="#3dbfc8"/><circle cx="1701.5" cy="1049.3" r="1.5" fill="#cde79e"/><circle cx="1706.5" cy="1011.4" r="0.7" fill="#72cf9e"/><circle cx="1700.2" cy="1000.3" r="1.8" fill="#5cc5ea"/><circle cx="1705.2" cy="1005.9" r="0.7" fill="#5cc5ea"/><circle cx="1721.3" cy="1021.2" r="1.3" fill="#f7bcd5"/><circle cx="1689.0" cy="1012.7" r="1.3" fill="#cde79e"/><circle cx="1703.7" cy="1039.3" r="0.7" fill="#3dbfc8"/><circle cx="1728.6" cy="1010.8" r="1.1" fill="#f7bcd5"/><circle cx="1684.8" cy="1046.7" r="1.8" fill="#cde79e"/><circle cx="1707.8" cy="1005.2" r="0.9" fill="#cde79e"/><circle cx="1694.6" cy="1009.5" r="0.9" fill="#cde79e"/><circle cx="1712.1" cy="1003.6" r="1.5" fill="#6ac4d8"/><circle cx="1712.0" cy="1011.6" r="0.7" fill="#4bb9a5"/><circle cx="1714.7" cy="997.7" r="0.9" fill="#6ac4d8"/><circle cx="1698.5" cy="1047.6" r="0.7" fill="#6ac4d8"/><circle cx="1687.9" cy="1050.9" r="0.9" fill="#6ac4d8"/><circle cx="1725.6" cy="1004.1" r="1.8" fill="#fbd3e3"/><circle cx="1718.0" cy="1011.0" r="1.1" fill="#f7bcd5"/><circle cx="1696.1" cy="1005.4" r="0.9" fill="#8ed3c2"/><circle cx="1680.1" cy="1032.1" r="0.7" fill="#a9dc8e"/><circle cx="1678.0" cy="1015.9" r="0.9" fill="#cde79e"/><circle cx="1712.2" cy="995.2" r="0.7" fill="#cde79e"/><circle cx="1717.5" cy="1000.0" r="1.1" fill="#cde79e"/><circle cx="1689.5" cy="1034.8" r="0.7" fill="#72cf9e"/><circle cx="1719.0" cy="1028.4" r="1.8" fill="#f4a6c6"/><circle cx="1713.3" cy="1054.1" r="0.7" fill="#a9dc8e"/><circle cx="1699.9" cy="1056.2" r="2.1" fill="#72cf9e"/><circle cx="1715.5" cy="1045.4" r="1.5" fill="#5cc5ea"/><circle cx="1691.6" cy="1010.0" r="0.9" fill="#6ac4d8"/><circle cx="1675.4" cy="1037.0" r="0.9" fill="#3dbfc8"/><circle cx="1702.7" cy="1007.5" r="0.7" fill="#72cf9e"/><circle cx="1715.0" cy="1016.9" r="0.7" fill="#f9c3d9"/><circle cx="1677.0" cy="1012.8" r="1.3" fill="#72cf9e"/><circle cx="1693.0" cy="1032.8" r="1.1" fill="#5cc5ea"/><circle cx="1719.6" cy="1039.4" r="1.3" fill="#8ed3c2"/><circle cx="1724.1" cy="1018.6" r="1.3" fill="#f6b3cf"/><circle cx="1689.3" cy="1016.5" r="0.7" fill="#4bb9a5"/><circle cx="1709.2" cy="998.1" r="1.1" fill="#a9dc8e"/><circle cx="1707.1" cy="1052.5" r="0.7" fill="#8ed3c2"/><circle cx="1712.2" cy="1043.1" r="0.7" fill="#6ac4d8"/><circle cx="1701.9" cy="1045.3" r="1.5" fill="#8ed3c2"/><circle cx="1691.0" cy="1053.2" r="1.1" fill="#4bb9a5"/><circle cx="1685.1" cy="1012.6" r="0.7" fill="#4bb9a5"/><circle cx="1678.9" cy="1043.6" r="1.1" fill="#6ac4d8"/><circle cx="1717.1" cy="996.8" r="0.7" fill="#72cf9e"/><circle cx="1709.0" cy="1010.0" r="0.7" fill="#72cf9e"/><circle cx="1717.0" cy="1033.8" r="1.5" fill="#cde79e"/><circle cx="1734.2" cy="1015.9" r="1.1" fill="#fbd3e3"/><circle cx="1713.7" cy="1048.4" r="0.7" fill="#72cf9e"/><circle cx="1710.4" cy="1006.4" r="0.7" fill="#3dbfc8"/><circle cx="1697.6" cy="1051.5" r="1.8" fill="#a9dc8e"/><circle cx="1695.6" cy="997.4" r="0.7" fill="#6ac4d8"/><circle cx="1732.4" cy="1039.8" r="0.9" fill="#f6b3cf"/><circle cx="1732.1" cy="1010.7" r="0.7" fill="#f6b3cf"/><circle cx="1689.1" cy="1023.3" r="0.9" fill="#72cf9e"/><circle cx="1728.3" cy="1044.6" r="0.7" fill="#cde79e"/><circle cx="1723.8" cy="1031.6" r="1.1" fill="#fbd3e3"/><circle cx="1720.9" cy="1034.1" r="1.3" fill="#f7bcd5"/><circle cx="1712.0" cy="1008.9" r="0.9" fill="#a9dc8e"/><circle cx="1683.4" cy="1031.5" r="0.7" fill="#4bb9a5"/><circle cx="1690.2" cy="1027.2" r="0.7" fill="#3dbfc8"/><circle cx="1727.1" cy="1036.9" r="0.7" fill="#f6b3cf"/><circle cx="1704.8" cy="1047.0" r="0.9" fill="#72cf9e"/><circle cx="1695.7" cy="1055.1" r="1.3" fill="#5cc5ea"/><circle cx="1715.9" cy="1040.7" r="0.7" fill="#72cf9e"/><circle cx="1690.0" cy="1044.1" r="0.7" fill="#a9dc8e"/><circle cx="1683.2" cy="1023.5" r="0.7" fill="#a9dc8e"/><circle cx="1720.5" cy="1024.3" r="0.7" fill="#f7bcd5"/><circle cx="1717.1" cy="1019.7" r="1.5" fill="#f6b3cf"/><circle cx="1678.6" cy="1019.1" r="1.1" fill="#5cc5ea"/><circle cx="1726.2" cy="1029.3" r="0.7" fill="#fbd3e3"/><circle cx="1708.0" cy="1038.6" r="2.1" fill="#6ac4d8"/><circle cx="1727.8" cy="1040.6" r="0.9" fill="#3dbfc8"/><circle cx="1682.6" cy="1012.5" r="0.7" fill="#5cc5ea"/><circle cx="1712.4" cy="1014.0" r="0.7" fill="#8ed3c2"/><circle cx="1676.3" cy="1025.0" r="1.3" fill="#4bb9a5"/><circle cx="1725.2" cy="1007.9" r="1.1" fill="#f6b3cf"/><circle cx="1727.7" cy="1018.4" r="1.1" fill="#f7bcd5"/><circle cx="1702.9" cy="1011.5" r="1.1" fill="#5cc5ea"/><circle cx="1686.4" cy="1025.4" r="0.7" fill="#6ac4d8"/><circle cx="1698.6" cy="1012.2" r="1.5" fill="#5cc5ea"/><circle cx="1715.0" cy="1009.0" r="1.1" fill="#6ac4d8"/><circle cx="1699.1" cy="1005.7" r="0.9" fill="#a9dc8e"/><circle cx="1703.1" cy="1041.6" r="0.7" fill="#6ac4d8"/><circle cx="1681.1" cy="1046.3" r="0.7" fill="#6ac4d8"/><circle cx="1702.9" cy="1004.7" r="0.7" fill="#6ac4d8"/><circle cx="1717.2" cy="1003.0" r="0.7" fill="#5cc5ea"/><circle cx="1677.2" cy="1032.6" r="0.7" fill="#8ed3c2"/><circle cx="1710.7" cy="1000.7" r="0.7" fill="#a9dc8e"/><circle cx="1690.6" cy="1031.6" r="0.7" fill="#5cc5ea"/><circle cx="1690.2" cy="1000.0" r="0.9" fill="#6ac4d8"/><circle cx="1697.6" cy="995.0" r="1.1" fill="#a9dc8e"/><circle cx="1721.4" cy="998.9" r="0.9" fill="#4bb9a5"/><circle cx="1708.9" cy="994.9" r="0.7" fill="#5cc5ea"/><circle cx="1688.8" cy="1018.9" r="0.7" fill="#5cc5ea"/><circle cx="1704.2" cy="1051.4" r="0.7" fill="#cde79e"/><circle cx="1709.7" cy="1052.4" r="0.7" fill="#a9dc8e"/><circle cx="1708.8" cy="1012.3" r="0.7" fill="#8ed3c2"/><circle cx="1719.3" cy="1013.5" r="0.7" fill="#f4a6c6"/><circle cx="1681.7" cy="1037.4" r="0.7" fill="#a9dc8e"/>
<text transform="translate(1747.44,1016.30) scale(0.9581,1)" text-anchor="start" font-family="'Liberation Sans', Arial, sans-serif" font-weight="700" font-size="30.3" fill="#070707">close the</text>
<text transform="translate(1747.46,1050.70) scale(0.9399,1)" text-anchor="start" font-family="'Liberation Sans', Arial, sans-serif" font-weight="700" font-size="30.3" fill="#070707">glass loop</text>
</svg>
</body></html>
